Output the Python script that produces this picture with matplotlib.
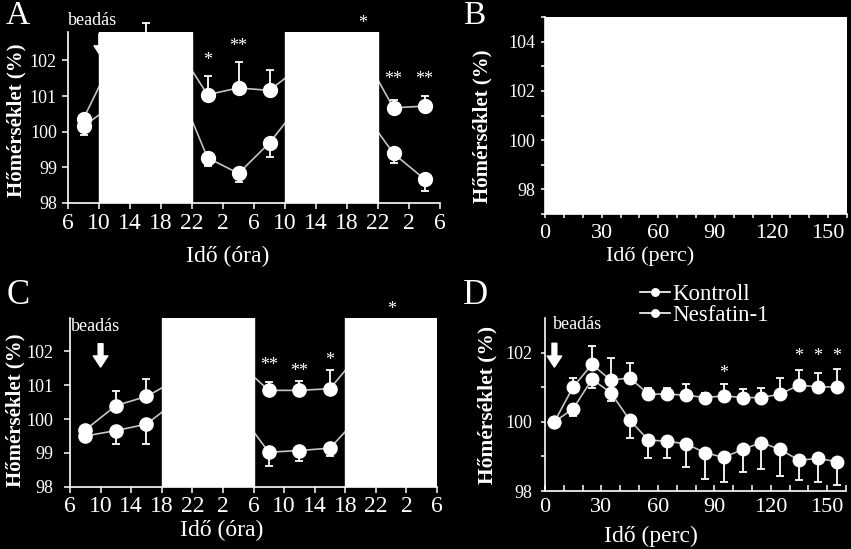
import numpy as np
import matplotlib
matplotlib.use("Agg")
import matplotlib.pyplot as plt
from matplotlib.ticker import MultipleLocator, FixedLocator

plt.rcParams['font.family'] = ['Liberation Serif', 'DejaVu Serif']

# ------------- DATA -------------
# A: 48 h recording (clock hours counted from 0:00 of day 1)
hours_a = [8, 12, 16, 20, 24, 28, 32, 36, 40, 44, 48, 52]
a_upper = [100.37, 102.15, 102.5, 102.4, 101.04, 101.23, 101.16, 101.84, 102.0, 102.23, 100.67, 100.72]
a_upper_err = [0, 0, 0.55, 0, 0.52, 0.72, 0.58, 0, 0, 0, 0.23, 0.28]
a_lower = [100.16, 100.78, 101.1, 101.37, 99.27, 98.83, 99.69, 100.79, 100.9, 100.6, 99.39, 98.67]
a_lower_err = [0.26, 0, 0, 0, 0.23, 0.23, 0.39, 0, 0, 0, 0.26, 0.33]
a_masks = [(10, 22), (34, 46)]
a_star_x = [24, 28, 44, 48, 52]
a_star_txt = ['*', '**', '*', '**', '**']
a_star_y = [102.0, 102.38, 103.04, 101.47, 101.47]

# C: 48 h recording
hours_c = [8, 12, 16, 20, 24, 28, 32, 36, 40, 44, 48, 52]
c_upper = [99.68, 100.4, 100.67, 101.17, 101.5, 101.67, 100.85, 100.85, 100.9, 101.98, 101.9, 101.3]
c_upper_err = [0, 0.44, 0.52, 0, 0, 0, 0.24, 0.27, 0.56, 0, 0, 0]
c_lower = [99.5, 99.66, 99.85, 100.55, 100.5, 100.24, 99.02, 99.07, 99.14, 100.12, 100.0, 99.5]
c_lower_err = [0, 0.39, 0.58, 0, 0, 0, 0.4, 0.31, 0.23, 0, 0, 0]
c_masks = [(18, 30), (42, 54)]
c_star_x = [32, 36, 40, 48]
c_star_txt = ['**', '**', '*', '*']
c_star_y = [101.58, 101.41, 101.73, 103.24]

# D: 160 min recording
minutes_d = [5, 15, 25, 35, 45, 55, 65, 75, 85, 95, 105, 115, 125, 135, 145, 155]
d_nesfatin = [100.0, 101.01, 101.66, 101.2, 101.27, 100.8, 100.8, 100.77, 100.7, 100.75,
              100.7, 100.7, 100.8, 101.06, 101.01, 101.01]
d_nesfatin_err = [0, 0.27, 0.53, 0.63, 0.43, 0.19, 0.19, 0.32, 0.12, 0.34, 0.26, 0.29, 0.47, 0.43, 0.41, 0.53]
d_kontroll = [100.0, 100.38, 101.23, 100.84, 100.05, 99.47, 99.44, 99.36, 99.11, 98.97,
              99.2, 99.4, 99.2, 98.89, 98.94, 98.85]
d_kontroll_err = [0, 0.22, 0.24, 0.24, 0.53, 0.53, 0.5, 0.66, 0.76, 0.7, 0.66, 0.77, 0.76, 0.57, 0.67, 0.68]
d_star_x = [95, 135, 145, 155]
d_star_txt = ['*', '*', '*', '*']
d_star_y = [101.4, 101.9, 101.9, 101.9]

hour_ticks = list(range(6, 55, 4))
hour_labels = [str(h % 24) for h in hour_ticks]

W, H = 851, 549
LINE_C = '#c4c4c4'


def fx(px):
    return px / W


def fy(py):
    return 1 - py / H


def base_style(ax, face='black'):
    ax.set_facecolor(face)
    for s in ['top', 'right']:
        ax.spines[s].set_visible(False)
    for s in ['left', 'bottom']:
        ax.spines[s].set_color('white')
        ax.spines[s].set_linewidth(1.2)
    ax.tick_params(colors='white', which='both', width=1.1)


def series(ax, x, y, err, up, ms, label=None):
    e = np.array(err)
    yerr = [np.zeros_like(e), e] if up else [e, np.zeros_like(e)]
    ax.errorbar(x, y, yerr=yerr, fmt='none', ecolor='white', elinewidth=1.3,
                capsize=3, capthick=1.3, zorder=3, clip_on=False)
    ln, = ax.plot(x, y, '-', color=LINE_C, lw=1.2, marker='o', ms=ms,
                  mfc='white', mec='white', zorder=4, clip_on=False, label=label)
    return ln


def arrow(ax, x, y_top, y_tip):
    ax.annotate('', xy=(x, y_tip), xytext=(x, y_top),
                arrowprops=dict(facecolor='white', edgecolor='white', width=3.5,
                                headwidth=10.5, headlength=8, shrink=0),
                annotation_clip=False, zorder=3)


def stars(ax, xs, txts, ys):
    for x, t, y in zip(xs, txts, ys):
        ax.text(x, y, t, color='white', fontsize=13, ha='center', va='center',
                clip_on=False, zorder=7)


def hour_axis(ax):
    ax.set_xlim(6, 54)
    ax.xaxis.set_major_locator(FixedLocator(hour_ticks))
    ax.set_xticklabels(hour_labels)
    ax.set_yticks([98, 99, 100, 101, 102])
    ax.tick_params(axis='x', direction='out', length=4, labelsize=17, pad=3)
    ax.tick_params(axis='y', direction='out', length=4, labelsize=13, pad=4)


fig = plt.figure(figsize=(W / 100, H / 100), dpi=100, facecolor='black')

# ------------- PANEL A -------------
axA = fig.add_axes([fx(68), fy(203), fx(372), 171 / H])
base_style(axA)
hour_axis(axA)
axA.set_ylim(98, 102.8)
series(axA, hours_a, a_lower, a_lower_err, up=False, ms=10)
series(axA, hours_a, a_upper, a_upper_err, up=True, ms=10)
arrow(axA, 10.3, 102.75, 102.1)
for x0, x1 in a_masks:
    axA.axvspan(x0, x1, color='white', zorder=5)
stars(axA, a_star_x, a_star_txt, a_star_y)
axA.text(6, 103.13, 'beadás', color='white', fontsize=13, ha='left', va='center', clip_on=False)

# ------------- PANEL B -------------
axB = fig.add_axes([fx(545), fy(214), fx(302), 197 / H])
base_style(axB, face='white')
axB.set_xlim(0, 160)
axB.set_ylim(97, 105)
axB.xaxis.set_major_locator(FixedLocator([0, 30, 60, 90, 120, 150]))
axB.xaxis.set_minor_locator(MultipleLocator(10))
axB.yaxis.set_major_locator(FixedLocator([98, 100, 102, 104]))
axB.yaxis.set_minor_locator(MultipleLocator(1))
axB.tick_params(axis='x', which='both', direction='out', length=3, labelsize=16, pad=4)
axB.tick_params(axis='y', which='both', direction='out', length=3, labelsize=13, pad=4)

# ------------- PANEL C -------------
axC = fig.add_axes([fx(70), fy(486.7), fx(367), 169 / H])
base_style(axC)
hour_axis(axC)
axC.set_ylim(98, 103)
axC.tick_params(axis='y', pad=8)
series(axC, hours_c, c_lower, c_lower_err, up=False, ms=9.5)
series(axC, hours_c, c_upper, c_upper_err, up=True, ms=9.5)
arrow(axC, 10, 102.23, 101.54)
for x0, x1 in c_masks:
    axC.axvspan(x0, x1, color='white', zorder=5)
stars(axC, c_star_x, c_star_txt, c_star_y)
axC.text(6.1, 102.75, 'beadás', color='white', fontsize=13, ha='left', va='center', clip_on=False)

# ------------- PANEL D -------------
axD = fig.add_axes([fx(545), fy(491), fx(301), 173 / H])
base_style(axD)
axD.set_xlim(0, 160)
axD.set_ylim(98, 103)
axD.xaxis.set_major_locator(FixedLocator([0, 30, 60, 90, 120, 150]))
axD.xaxis.set_minor_locator(MultipleLocator(10))
axD.yaxis.set_major_locator(FixedLocator([98, 100, 102]))
axD.yaxis.set_minor_locator(FixedLocator([99, 101]))
axD.tick_params(axis='x', which='both', direction='in', length=4, labelsize=16, pad=5)
axD.tick_params(axis='y', which='both', direction='out', length=3, labelsize=13, pad=6)
lk = series(axD, minutes_d, d_kontroll, d_kontroll_err, up=False, ms=9, label='Kontroll')
ln = series(axD, minutes_d, d_nesfatin, d_nesfatin_err, up=True, ms=9, label='Nesfatin-1')
arrow(axD, 5, 102.27, 101.58)
stars(axD, d_star_x, d_star_txt, d_star_y)
axD.text(4.3, 102.8, 'beadás', color='white', fontsize=13, ha='left', va='center', clip_on=False)
leg = fig.legend([lk, ln], ['Kontroll', 'Nesfatin-1'], loc='upper left',
                 bbox_to_anchor=(fx(640), fy(284)), frameon=False, fontsize=16.5,
                 handlelength=1.3, handletextpad=0.1, labelspacing=0.0,
                 markerscale=0.6, borderaxespad=0, borderpad=0)
for t in leg.get_texts():
    t.set_color('white')
for h in leg.legend_handles:
    h.set_color('white')

# ------------- LABELS -------------
ylab = 'Hőmérséklet (%)'
for x, y, fs in [(16, 120, 15), (482, 126, 15), (15, 410, 15), (487, 405, 15.5)]:
    fig.text(fx(x), fy(y), ylab, rotation=90, color='white', fontsize=fs,
             fontweight='bold', ha='center', va='center')

fig.text(fx(228), fy(256), 'Idő (óra)', color='white', fontsize=17, ha='center', va='center')
fig.text(fx(650), fy(256), 'Idő (perc)', color='white', fontsize=16, ha='center', va='center')
fig.text(fx(222), fy(530), 'Idő (óra)', color='white', fontsize=17, ha='center', va='center')
fig.text(fx(651), fy(536), 'Idő (perc)', color='white', fontsize=17, ha='center', va='center')

# panel letters
fig.text(fx(18), fy(0), 'A', color='white', fontsize=24, ha='center', va='top')
fig.text(fx(474), fy(1), 'B', color='white', fontsize=24, ha='center', va='top')
fig.text(fx(18), fy(296), 'C', color='white', fontsize=25, ha='center', va='center')
fig.text(fx(475), fy(295), 'D', color='white', fontsize=25, ha='center', va='center')

fig.savefig('out.png', dpi=100, facecolor='black')
